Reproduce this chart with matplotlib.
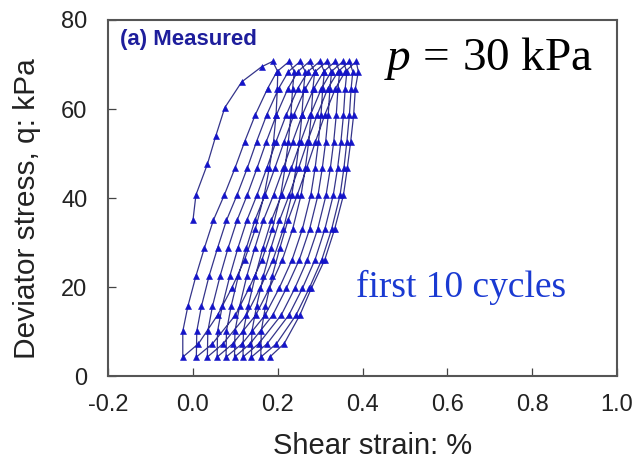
import numpy as np
import matplotlib
matplotlib.use("Agg")
import matplotlib.pyplot as plt

# Deviator stress levels (kPa) at which the logger sampled each branch
q_unload = [70.7, 68.4, 64.6, 58.7, 52.7, 46.7, 40.7, 33.0, 26.2, 19.7, 13.7, 7.3, 4.3]
q_reload = [4.3, 10.1, 15.7, 22.5, 28.8, 35.0, 40.7, 46.7, 52.7, 58.7, 64.6, 68.4, 70.7]

# First (monotonic) loading up to the cyclic peak
initial_x = [0.000, 0.007, 0.034, 0.054, 0.075, 0.115, 0.162, 0.188]
initial_q = [35.0, 40.7, 47.6, 54.0, 60.3, 66.1, 69.5, 70.7]

# Shear strain (%) along each unloading branch, cycles 1-10
unload_1 = [0.188, 0.200, 0.199, 0.196, 0.190, 0.180, 0.168, 0.147, 0.122, 0.091, 0.058, 0.013, -0.024]
unload_2 = [0.227, 0.239, 0.235, 0.231, 0.225, 0.217, 0.207, 0.187, 0.163, 0.132, 0.100, 0.046, 0.008]
unload_3 = [0.253, 0.265, 0.261, 0.257, 0.251, 0.243, 0.233, 0.213, 0.189, 0.158, 0.126, 0.071, 0.034]
unload_4 = [0.275, 0.287, 0.283, 0.279, 0.273, 0.265, 0.255, 0.235, 0.211, 0.180, 0.148, 0.094, 0.057]
unload_5 = [0.299, 0.310, 0.306, 0.302, 0.296, 0.288, 0.278, 0.258, 0.234, 0.203, 0.170, 0.116, 0.078]
unload_6 = [0.316, 0.327, 0.323, 0.319, 0.313, 0.305, 0.295, 0.275, 0.251, 0.220, 0.188, 0.135, 0.098]
unload_7 = [0.336, 0.346, 0.342, 0.338, 0.332, 0.324, 0.314, 0.294, 0.270, 0.240, 0.208, 0.155, 0.118]
unload_8 = [0.354, 0.363, 0.359, 0.355, 0.349, 0.341, 0.331, 0.311, 0.288, 0.258, 0.226, 0.175, 0.138]
unload_9 = [0.369, 0.377, 0.373, 0.369, 0.363, 0.356, 0.347, 0.327, 0.304, 0.274, 0.243, 0.197, 0.160]
unload_10 = [0.385, 0.390, 0.383, 0.379, 0.372, 0.364, 0.355, 0.334, 0.311, 0.279, 0.252, 0.215, 0.181]

# Shear strain (%) along each reloading branch
reload_1 = [-0.024, -0.024, -0.012, 0.007, 0.027, 0.048, 0.074, 0.099, 0.122, 0.147, 0.176, 0.198, 0.227]
reload_2 = [0.008, 0.009, 0.020, 0.038, 0.058, 0.079, 0.104, 0.128, 0.150, 0.174, 0.202, 0.225, 0.253]
reload_3 = [0.034, 0.035, 0.046, 0.064, 0.083, 0.104, 0.128, 0.151, 0.173, 0.197, 0.224, 0.247, 0.275]
reload_4 = [0.057, 0.058, 0.069, 0.087, 0.106, 0.127, 0.151, 0.174, 0.196, 0.220, 0.247, 0.271, 0.299]
reload_5 = [0.078, 0.079, 0.090, 0.107, 0.126, 0.146, 0.170, 0.193, 0.215, 0.238, 0.265, 0.288, 0.316]
reload_6 = [0.098, 0.099, 0.110, 0.127, 0.146, 0.166, 0.190, 0.213, 0.235, 0.258, 0.285, 0.308, 0.336]
reload_7 = [0.118, 0.119, 0.130, 0.147, 0.165, 0.185, 0.209, 0.232, 0.254, 0.277, 0.303, 0.326, 0.354]
reload_8 = [0.138, 0.139, 0.150, 0.166, 0.184, 0.204, 0.227, 0.249, 0.270, 0.293, 0.318, 0.342, 0.369]
reload_9 = [0.160, 0.161, 0.171, 0.187, 0.205, 0.224, 0.246, 0.268, 0.289, 0.311, 0.336, 0.359, 0.385]

x_ticks = [-0.2, 0.0, 0.2, 0.4, 0.6, 0.8, 1.0]
y_ticks = [0, 20, 40, 60, 80]

unloads = [unload_1, unload_2, unload_3, unload_4, unload_5,
           unload_6, unload_7, unload_8, unload_9, unload_10]
reloads = [reload_1, reload_2, reload_3, reload_4, reload_5,
           reload_6, reload_7, reload_8, reload_9]

# Chain the branches into one continuous stress path
path_x = list(initial_x)
path_q = list(initial_q)
for i, ux in enumerate(unloads):
    path_x += ux[1:]
    path_q += q_unload[1:]
    if i < len(reloads):
        path_x += reloads[i][1:]
        path_q += q_reload[1:]

plt.rcParams['mathtext.fontset'] = 'custom'
plt.rcParams['mathtext.rm'] = 'Liberation Serif'
plt.rcParams['mathtext.it'] = 'Liberation Serif:italic'

fig = plt.figure(figsize=(6.4, 4.65), dpi=100)
ax = fig.add_axes([0.169, 0.191, 0.795, 0.766])

ax.plot(path_x, path_q, color='#34348a', lw=0.9,
        marker='^', markersize=4.4, markerfacecolor='#1414c8',
        markeredgecolor='#1414c8', markeredgewidth=0.4)

ax.set_xlim(-0.2, 1.0)
ax.set_ylim(0, 80)
ax.set_xticks(x_ticks)
ax.set_yticks(y_ticks)
ax.set_xticklabels([f"{t:.1f}" for t in x_ticks])
ax.tick_params(direction='in', length=6, width=0.9, color='#444444',
               labelsize=17, labelcolor='#222222', top=False, right=False)
ax.tick_params(axis='x', pad=13)
ax.tick_params(axis='y', pad=15)
for s in ax.spines.values():
    s.set_color('#555555')
    s.set_linewidth(1.5)

sans = ['Liberation Sans', 'DejaVu Sans']
for lab in ax.get_xticklabels() + ax.get_yticklabels():
    lab.set_fontfamily(sans)

ax.set_xlabel('Shear strain: %', fontsize=21, family=sans, color='#222222')
ax.set_ylabel('Deviator stress, q: kPa', fontsize=21.5, family=sans, color='#222222')
ax.xaxis.set_label_coords(0.519, -0.158)
ax.yaxis.set_label_coords(-0.132, 0.47)

ax.text(0.024, 0.944, '(a) Measured', transform=ax.transAxes,
        fontsize=16, fontweight='bold', color='#1e1e9c',
        family=sans, ha='left', va='center')
ax.text(0.543, 0.86, r'$p\,=\,30\ \mathrm{kPa}$', transform=ax.transAxes,
        fontsize=34, color='black', ha='left', va='baseline')
ax.text(0.487, 0.222, 'first 10 cycles', transform=ax.transAxes,
        fontsize=27, color='#1a3ad2', family=['Liberation Serif', 'DejaVu Serif'],
        ha='left', va='baseline')

fig.savefig('out.png', dpi=100)
